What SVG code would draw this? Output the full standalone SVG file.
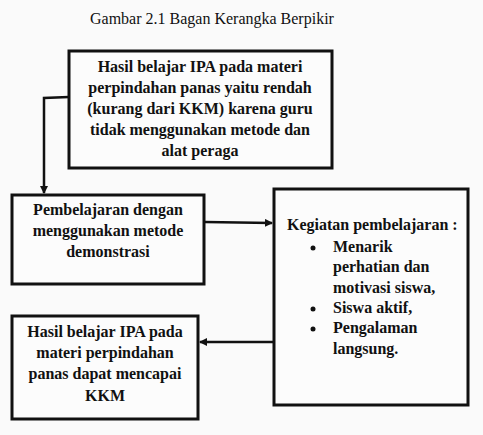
<svg xmlns="http://www.w3.org/2000/svg" width="483" height="435" viewBox="0 0 483 435">
<style>
.box{fill:#fcfcfc;stroke:#111;stroke-width:3}
.t{font-family:"Liberation Serif","Times New Roman",serif;font-size:16px;font-weight:bold;fill:#111}
.c{text-anchor:middle}
.title{font-family:"Liberation Serif","Times New Roman",serif;font-size:16px;fill:#111}
.con{fill:none;stroke:#111;stroke-width:2.5}
</style>
<defs>
<marker id="ah" markerWidth="8" markerHeight="8" refX="7" refY="4" orient="auto" markerUnits="userSpaceOnUse">
<path d="M0,0 L8,4 L0,8 Z" fill="#111"/>
</marker>
</defs>
<rect width="483" height="435" fill="#fafafa"/>
<text class="title" x="90" y="24">Gambar 2.1 Bagan Kerangka Berpikir</text>
<g id="connectors">
<path class="con" d="M69,97 L44,98 L44,193" marker-end="url(#ah)"/>
<path class="con" d="M205,222 L272,223" marker-end="url(#ah)"/>
<path class="con" d="M273,342 L200,342" marker-end="url(#ah)"/>
</g>
<g id="node-masalah">
<rect class="box" x="69" y="51" width="263" height="117"/>
<text class="t c" x="200" y="72">Hasil belajar IPA pada materi</text>
<text class="t c" x="200" y="93">perpindahan panas yaitu rendah</text>
<text class="t c" x="200" y="114">(kurang dari KKM) karena guru</text>
<text class="t c" x="200" y="135">tidak menggunakan metode dan</text>
<text class="t c" x="200" y="156">alat peraga</text>
</g>
<g id="node-demonstrasi">
<rect class="box" x="12" y="195" width="192" height="89"/>
<text class="t c" x="108" y="215">Pembelajaran dengan</text>
<text class="t c" x="108" y="236">menggunakan metode</text>
<text class="t c" x="108" y="257">demonstrasi</text>
</g>
<g id="node-kegiatan">
<rect class="box" x="274" y="189" width="194" height="216"/>
<text class="t" x="287" y="230">Kegiatan pembelajaran :</text>
<circle cx="313" cy="248" r="2.5" fill="#111"/>
<text class="t" x="333" y="252">Menarik</text>
<text class="t" x="333" y="272">perhatian dan</text>
<text class="t" x="333" y="293">motivasi siswa,</text>
<circle cx="313" cy="309" r="2.5" fill="#111"/>
<text class="t" x="333" y="313">Siswa aktif,</text>
<circle cx="313" cy="329" r="2.5" fill="#111"/>
<text class="t" x="333" y="333">Pengalaman</text>
<text class="t" x="333" y="354">langsung.</text>
</g>
<g id="node-hasil">
<rect class="box" x="12" y="316" width="186" height="103"/>
<text class="t c" x="105" y="337">Hasil belajar IPA pada</text>
<text class="t c" x="105" y="358">materi perpindahan</text>
<text class="t c" x="105" y="379">panas dapat mencapai</text>
<text class="t c" x="105" y="401">KKM</text>
</g>
</svg>
